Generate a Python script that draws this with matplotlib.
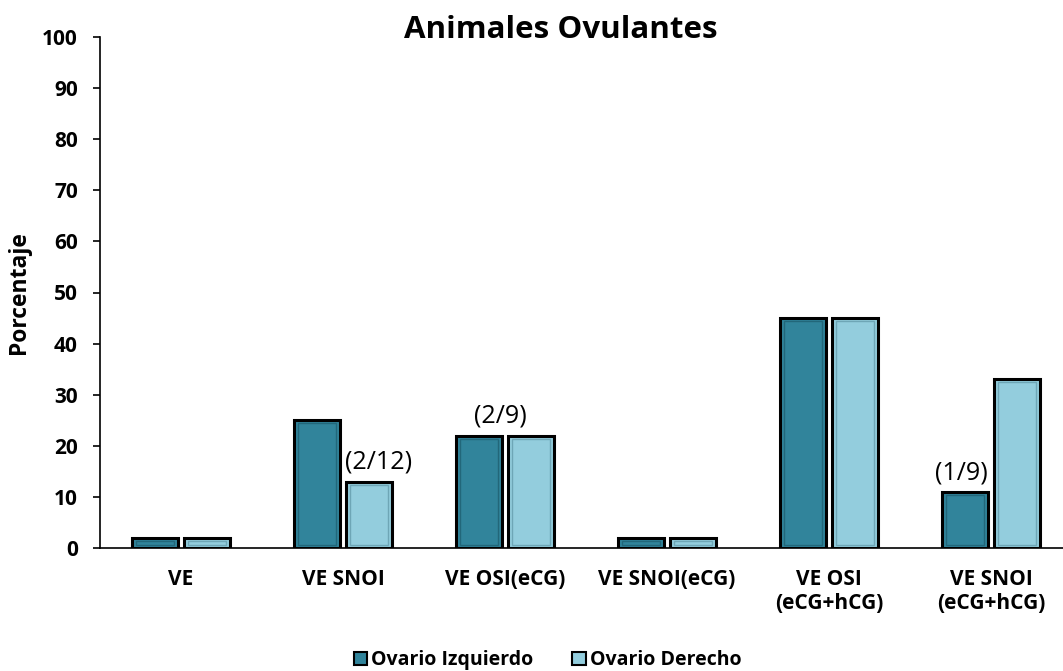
import matplotlib.pyplot as plt
import numpy as np

categorias = ["VE", "VE SNOI", "VE OSI(eCG)", "VE SNOI(eCG)", "VE OSI\n(eCG+hCG)", "VE SNOI\n(eCG+hCG)"]
izquierdo = [2, 25, 22, 2, 45, 11]
derecho = [2, 13, 22, 2, 45, 33]
etiquetas = [(1, "der", "(2/12)"), (2, "centro", "(2/9)"), (5, "izq", "(1/9)")]

COLOR_IZQ = "#31849B"
COLOR_DER = "#93CDDD"

plt.rcParams['font.family'] = ['Open Sans', 'DejaVu Sans']

fig = plt.figure(figsize=(10.63, 6.71), dpi=100)
ax = fig.add_axes([100 / 1063, 1 - 548 / 671, 6 * 162 / 1063, 511 / 671])

x = np.arange(len(categorias))
ancho = 0.28
off = 0.16

def barras_bisel(xs, vals, color, sombra):
    ax.bar(xs, vals, ancho, color=color, edgecolor="black", linewidth=2.2, zorder=3)
    # bisel interior
    for xi, v in zip(xs, vals):
        m = 0.025
        h = max(v - 1.2, 0.3)
        ax.bar(xi, h, ancho - 2 * m, bottom=min(0.6, v / 3), color="none",
               edgecolor=sombra, linewidth=1.0, zorder=4, alpha=0.7)

barras_bisel(x - off, izquierdo, COLOR_IZQ, "#1d5b6c")
barras_bisel(x + off, derecho, COLOR_DER, "#5f96a6")

for i, lado, txt in etiquetas:
    if lado == "der":
        xx, yy, ha = i + off - ancho / 2 - 0.01, derecho[i], "left"
    elif lado == "izq":
        xx, yy, ha = i - off - 0.02, izquierdo[i], "center"
    else:
        xx, yy, ha = i - 0.03, max(izquierdo[i], derecho[i]), "center"
    ax.text(xx, yy + 1.3, txt, ha=ha, va="bottom", fontsize=18)

ax.set_xlim(-0.5, 5.5)
ax.set_ylim(0, 100)
ax.set_yticks(np.arange(0, 101, 10))
ax.set_xticks(x)
ax.set_xticklabels(categorias, fontsize=15, fontweight="bold")
ax.tick_params(axis="x", length=0, pad=15)
ax.tick_params(axis="y", labelsize=15, length=5, width=1.2, direction="out", pad=11)
for lab in ax.get_yticklabels():
    lab.set_fontweight("bold")
ax.spines["top"].set_visible(False)
ax.spines["right"].set_visible(False)
ax.spines["left"].set_linewidth(1.2)
ax.spines["bottom"].set_linewidth(1.2)
ax.set_ylabel("Porcentaje", fontsize=16.5, fontweight="bold", labelpad=8)

fig.text(0.528, 0.955, "Animales Ovulantes", ha="center", va="center", fontsize=22.5, fontweight="bold")

h1 = plt.Rectangle((0, 0), 1, 1, facecolor=COLOR_IZQ, edgecolor="black", linewidth=1.5)
h2 = plt.Rectangle((0, 0), 1, 1, facecolor=COLOR_DER, edgecolor="black", linewidth=1.5)
fig.legend([h1, h2], ["Ovario Izquierdo", "Ovario Derecho"], loc="center",
           bbox_to_anchor=(0.515, 0.016), ncol=2, frameon=False, handlelength=0.7,
           handleheight=0.7, handletextpad=0.2, columnspacing=2.0,
           prop={"weight": "bold", "size": 14})

fig.savefig("out.png", dpi=100)
